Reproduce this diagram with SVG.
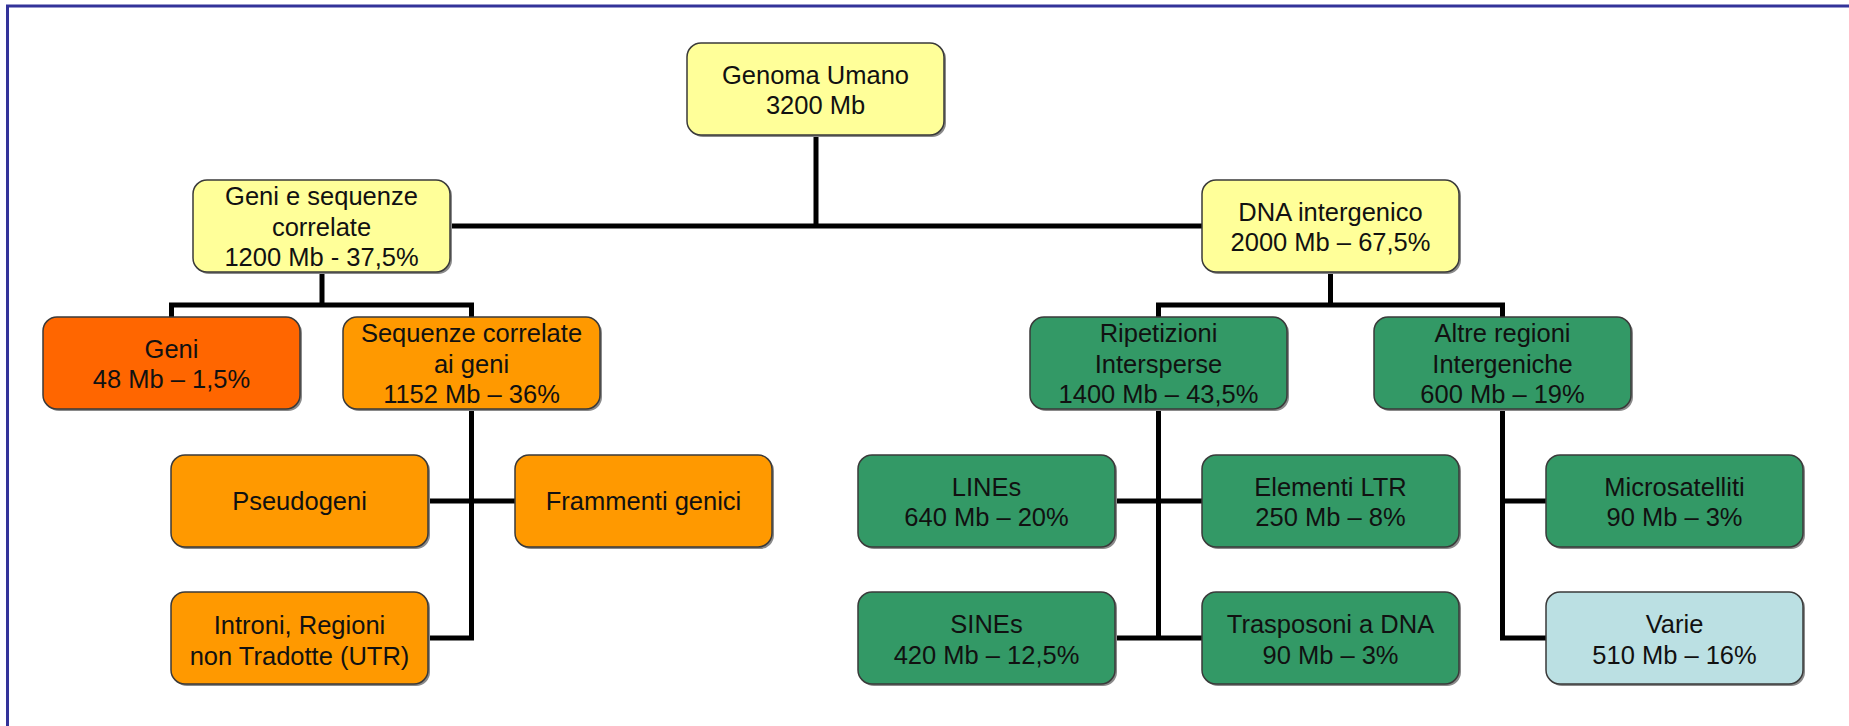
<svg xmlns="http://www.w3.org/2000/svg" width="1849" height="726" viewBox="0 0 1849 726">
<style>
.box{stroke:#3a3a3a;stroke-width:1.5}
.sh{fill:#8a8a8a}
.y{fill:#FFFF99}
.r{fill:#FF6600}
.o{fill:#FF9900}
.g{fill:#339966}
.b{fill:#BBE0E3}
text{font-family:"Liberation Sans",Arial,sans-serif;font-size:25.5px;fill:#111;text-anchor:middle}
.conn{fill:none;stroke:#000;stroke-width:5}
</style>
<defs>
<rect id="shape" width="257" height="92" rx="14" ry="14"/>
</defs>
<rect x="0" y="0" width="1849" height="726" fill="#fff"/>
<path d="M7.5 726 V6 H1849" fill="none" stroke="#333399" stroke-width="3"/>
<g id="connectors" class="conn">
<path d="M816 135 V226 M449 226 H1202"/>
<path d="M322 272 V305 M171.5 318 V305 H471.5 V318"/>
<path d="M471.5 409 V640 M428 501 H515 M428 638 H474"/>
<path d="M1330.5 272 V305 M1158.5 317 V305 H1502.5 V317"/>
<path d="M1158.5 409 V640 M1115 501 H1202 M1115 638 H1202"/>
<path d="M1502.5 409 V640 M1500 501 H1546 M1500 638 H1546"/>
</g>
<g transform="translate(-3,0)">
<g id="n-genoma"><use href="#shape" x="692" y="45" class="sh"/><use href="#shape" x="690" y="43" class="box y"/><text x="818.5" y="83.5">Genoma Umano</text><text x="818.5" y="114">3200 Mb</text></g>
<g id="n-geniseq"><use href="#shape" x="198" y="182" class="sh"/><use href="#shape" x="196" y="180" class="box y"/><text x="324.5" y="205">Geni e sequenze</text><text x="324.5" y="235.5">correlate</text><text x="324.5" y="266">1200 Mb - 37,5%</text></g>
<g id="n-dna"><use href="#shape" x="1207" y="182" class="sh"/><use href="#shape" x="1205" y="180" class="box y"/><text x="1333.5" y="220.5">DNA intergenico</text><text x="1333.5" y="251">2000 Mb – 67,5%</text></g>
<g id="n-geni"><use href="#shape" x="48" y="319" class="sh"/><use href="#shape" x="46" y="317" class="box r"/><text x="174.5" y="357.5">Geni</text><text x="174.5" y="388">48 Mb – 1,5%</text></g>
<g id="n-seqcorr"><use href="#shape" x="348" y="319" class="sh"/><use href="#shape" x="346" y="317" class="box o"/><text x="474.5" y="342">Sequenze correlate</text><text x="474.5" y="372.5">ai geni</text><text x="474.5" y="403">1152 Mb – 36%</text></g>
<g id="n-pseudo"><use href="#shape" x="176" y="457" class="sh"/><use href="#shape" x="174" y="455" class="box o"/><text x="302.5" y="510">Pseudogeni</text></g>
<g id="n-frammenti"><use href="#shape" x="520" y="457" class="sh"/><use href="#shape" x="518" y="455" class="box o"/><text x="646.5" y="510">Frammenti genici</text></g>
<g id="n-introni"><use href="#shape" x="176" y="594" class="sh"/><use href="#shape" x="174" y="592" class="box o"/><text x="302.5" y="634">Introni, Regioni</text><text x="302.5" y="664.5">non Tradotte (UTR)</text></g>
<g id="n-ripetizioni"><use href="#shape" x="1035" y="319" class="sh"/><use href="#shape" x="1033" y="317" class="box g"/><text x="1161.5" y="342">Ripetizioni</text><text x="1161.5" y="372.5">Intersperse</text><text x="1161.5" y="403">1400 Mb – 43,5%</text></g>
<g id="n-altre"><use href="#shape" x="1379" y="319" class="sh"/><use href="#shape" x="1377" y="317" class="box g"/><text x="1505.5" y="342">Altre regioni</text><text x="1505.5" y="372.5">Intergeniche</text><text x="1505.5" y="403">600 Mb – 19%</text></g>
<g id="n-lines"><use href="#shape" x="863" y="457" class="sh"/><use href="#shape" x="861" y="455" class="box g"/><text x="989.5" y="495.5">LINEs</text><text x="989.5" y="526">640 Mb – 20%</text></g>
<g id="n-ltr"><use href="#shape" x="1207" y="457" class="sh"/><use href="#shape" x="1205" y="455" class="box g"/><text x="1333.5" y="495.5">Elementi LTR</text><text x="1333.5" y="526">250 Mb – 8%</text></g>
<g id="n-micro"><use href="#shape" x="1551" y="457" class="sh"/><use href="#shape" x="1549" y="455" class="box g"/><text x="1677.5" y="495.5">Microsatelliti</text><text x="1677.5" y="526">90 Mb – 3%</text></g>
<g id="n-sines"><use href="#shape" x="863" y="594" class="sh"/><use href="#shape" x="861" y="592" class="box g"/><text x="989.5" y="633">SINEs</text><text x="989.5" y="663.5">420 Mb – 12,5%</text></g>
<g id="n-trasposoni"><use href="#shape" x="1207" y="594" class="sh"/><use href="#shape" x="1205" y="592" class="box g"/><text x="1333.5" y="633">Trasposoni a DNA</text><text x="1333.5" y="663.5">90 Mb – 3%</text></g>
<g id="n-varie"><use href="#shape" x="1551" y="594" class="sh"/><use href="#shape" x="1549" y="592" class="box b"/><text x="1677.5" y="633">Varie</text><text x="1677.5" y="663.5">510 Mb – 16%</text></g>
</g>
</svg>
